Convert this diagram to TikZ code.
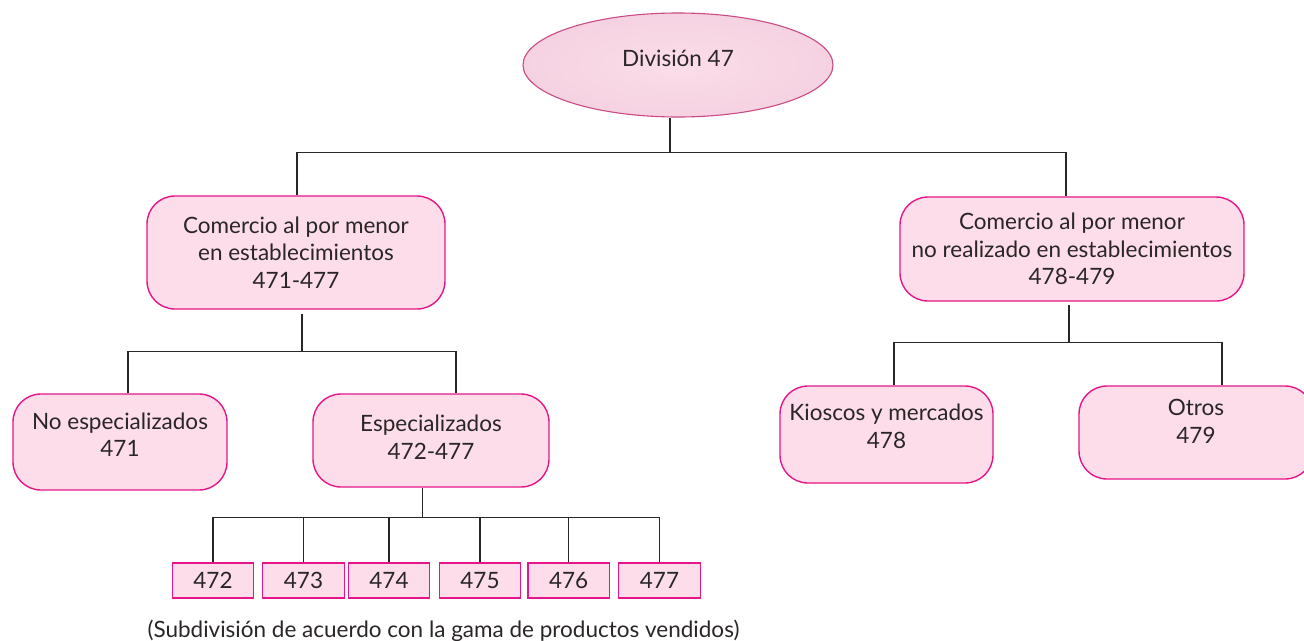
\documentclass[tikz,border=0pt]{standalone}
\usepackage{fontspec}
\setmainfont{Lato}
\usepackage{tikz}
\usetikzlibrary{positioning,shapes.geometric}
\definecolor{rosa}{HTML}{FCDDE9}
\definecolor{rosaosc}{HTML}{F5D2E1}
\definecolor{borde}{HTML}{E6168A}
\definecolor{bordeov}{HTML}{C94A85}
\definecolor{tinta}{HTML}{2A2627}
\newcommand{\bajo}[1]{\rule[-#1]{0pt}{#1}}

\begin{document}
\begin{tikzpicture}[on grid,
  every node/.style={font=\fontsize{22.5}{27.5}\selectfont, text=tinta},
  elipse/.style={ellipse, draw=bordeov, line width=1.1pt, inner color=rosa, outer color=rosaosc,
    minimum width=310pt, minimum height=104pt, inner sep=0pt},
  caja/.style={draw=borde, line width=1.4pt, fill=rosa, rounded corners=28pt, align=center, inner sep=0pt},
  codigo/.style={draw=borde, line width=1.2pt, fill=rosa, minimum width=81.5pt, minimum height=35pt, inner sep=0pt},
  linea/.style={draw=tinta, line width=1.1pt}]
  \useasboundingbox (0,0) rectangle (1304pt,-640pt);
  \node[elipse] (div) at (678pt,-65pt) {División 47\bajo{14pt}};
  \node[caja, minimum width=298pt, minimum height=113pt] (est) [below left = 187.5pt and 382pt of div]
    {Comercio al por menor\\en establecimientos\\471-477};
  \node[caja, minimum width=344pt, minimum height=104pt] (noest) [below right = 184pt and 394pt of div]
    {Comercio al por menor\\no realizado en establecimientos\\478-479};
  \node[caja, minimum width=214pt, minimum height=96pt] (noesp) [below left = 189.5pt and 176pt of est]
    {No especializados\\471\bajo{15pt}};
  \node[caja, minimum width=236pt, minimum height=93pt] (esp) [below right = 188pt and 135pt of est]
    {Especializados\\472-477\bajo{7pt}};
  \node[caja, minimum width=213pt, minimum height=97pt] (kio) [below left = 185.5pt and 185.5pt of noest]
    {Kioscos y mercados\\478\bajo{17pt}};
  \node[caja, minimum width=234pt, minimum height=93pt] (otros) [below right = 183.5pt and 124pt of noest]
    {Otros\\479\bajo{22pt}};
  \node[codigo] (c472) [below left = 140pt and 218pt of esp] {472};
  \node[codigo] (c473) [right = 90.5pt of c472] {473};
  \node[codigo] (c474) [right = 85.5pt of c473] {474};
  \node[codigo] (c475) [right = 91pt of c474] {475};
  \node[codigo] (c476) [right = 88.7pt of c475] {476};
  \node[codigo] (c477) [right = 90.8pt of c476] {477};
  \node[anchor=base west] (nota) at (144pt,-637pt)
    {(Subdivisión de acuerdo con la gama de productos vendidos)};
  % conectores
  \draw[linea] ([xshift=-8pt]div.south) -- ++(0,-35pt) coordinate (j0);
  \draw[linea] ([xshift=1pt]est.north) |- (j0) -| ([xshift=-6pt]noest.north);
  \draw[linea] ([xshift=6pt,yshift=-4pt]est.south) -- ++(0,-38pt) coordinate (j1);
  \draw[linea] ([xshift=8pt]noesp.north) |- (j1) -| ([xshift=25pt]esp.north);
  \draw[linea] ([xshift=-3pt,yshift=-3pt]noest.south) -- ++(0,-38pt) coordinate (j2);
  \draw[linea] ([xshift=7.5pt]kio.north) |- (j2) -| ([xshift=26pt]otros.north);
  \draw[linea] ([xshift=-8.5pt]esp.south) -- ++(0,-30pt) coordinate (j3);
  \draw[linea] (c472.north) |- (j3) -| (c477.north);
  \foreach \n in {473,...,476}
    \draw[linea] (c\n.north) -- (c\n.north |- j3);
\end{tikzpicture}
\end{document}
